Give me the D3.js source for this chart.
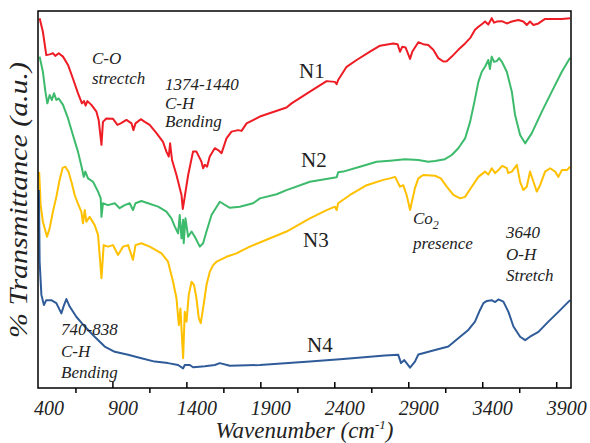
<!DOCTYPE html>
<html>
<head>
<meta charset="utf-8">
<script src="https://cdn.jsdelivr.net/npm/d3@7/dist/d3.min.js"></script>
<style>
  body { margin: 0; background: #fff; }
  svg text { font-family: "Liberation Serif", "Times New Roman", serif; fill: #222; }
</style>
</head>
<body>
<div class="chart"></div>
<script>
var svgWidth = 590;
var svgHeight = 443;
var margin = {top: 11, right: 19, bottom: 55, left: 38};
var width = svgWidth - margin.left - margin.right;
var height = svgHeight - margin.top - margin.bottom;

// [wavenumber (cm-1), transmittance (a.u.)]
var n1 = [[408,98.1],[430,94.5],[453,88.3],[476,88.5],[498,88.8],[514,88.1],[537,88.8],[566,87.9],[600,85.7],[633,82.1],[667,78.2],[694,75.5],[708,76.1],[719,74.9],[731,76.1],[758,75.1],[792,73.3],[807,71.1],[826,64.5],[836,70.6],[859,71.5],[904,71.4],[934,69.8],[956,70.2],[995,71.1],[1029,70.2],[1042,68.4],[1056,70.2],[1092,71.3],[1119,70.6],[1152,69.8],[1198,67.6],[1242,65.3],[1265,62.7],[1281,61.4],[1290,64.9],[1303,60.5],[1333,56.5],[1367,51.2],[1376,47.5],[1412,56.5],[1445,62.7],[1468,62.7],[1491,60.9],[1502,60.0],[1513,58.3],[1525,59.2],[1540,58.7],[1558,61.4],[1592,63.6],[1615,63.1],[1638,62.3],[1671,66.2],[1705,68.0],[1750,68.4],[1773,68.2],[1807,70.2],[1897,72.0],[2077,74.4],[2111,75.5],[2235,78.6],[2348,81.4],[2404,81.2],[2416,80.6],[2426,81.7],[2483,85.2],[2551,87.0],[2641,89.2],[2709,90.8],[2798,91.4],[2828,91.2],[2844,89.2],[2859,90.5],[2882,90.3],[2912,87.3],[2927,89.2],[2945,90.3],[2968,91.7],[3001,91.2],[3035,91.0],[3069,89.7],[3103,87.5],[3137,86.6],[3160,86.7],[3194,87.9],[3238,89.7],[3284,91.4],[3318,92.8],[3351,95.0],[3374,95.8],[3397,96.5],[3419,97.2],[3441,96.4],[3464,98.1],[3480,96.9],[3498,97.2],[3532,97.3],[3566,96.7],[3600,97.2],[3644,97.6],[3678,97.2],[3701,96.3],[3723,97.2],[3746,96.3],[3780,96.7],[3825,97.9],[3870,97.9],[3938,97.9],[3994,98.1]];

var n2 = [[408,87.9],[430,83.9],[447,78.6],[460,75.5],[476,77.7],[491,76.4],[505,78.2],[521,76.4],[537,76.8],[566,75.1],[600,71.5],[633,67.1],[667,62.7],[694,58.3],[706,56.0],[717,57.4],[735,55.6],[769,54.7],[803,52.1],[821,50.3],[826,45.4],[836,49.0],[870,48.5],[916,49.0],[949,47.7],[983,48.5],[1017,49.0],[1039,47.2],[1056,49.0],[1096,49.6],[1141,49.0],[1209,48.1],[1265,46.8],[1299,45.0],[1322,42.8],[1344,41.0],[1355,45.9],[1367,39.7],[1378,44.6],[1382,38.4],[1394,45.0],[1412,40.1],[1435,41.5],[1457,40.1],[1491,37.5],[1513,38.4],[1536,41.5],[1570,45.9],[1626,49.4],[1694,47.8],[1761,48.1],[1851,49.0],[1897,50.3],[2010,51.4],[2077,52.5],[2235,54.7],[2416,55.9],[2426,57.2],[2460,57.4],[2573,58.7],[2686,60.0],[2776,60.3],[2878,60.7],[2968,60.5],[3035,60.0],[3081,60.2],[3148,60.7],[3194,61.8],[3238,63.6],[3284,66.2],[3318,70.6],[3347,75.9],[3374,81.2],[3397,83.9],[3419,85.2],[3441,87.0],[3452,84.6],[3464,87.9],[3480,86.5],[3498,86.7],[3514,87.5],[3532,86.6],[3566,83.9],[3600,78.6],[3622,72.4],[3656,67.1],[3690,64.9],[3712,66.2],[3735,67.6],[3803,73.3],[3870,78.6],[3938,83.9],[3994,87.6]];

var n3 = [[405,57.3],[415,48.5],[430,44.1],[458,40.1],[476,42.4],[498,46.8],[521,50.7],[543,55.2],[564,58.4],[582,58.7],[604,57.3],[625,54.4],[645,51.2],[665,49.1],[690,46.8],[701,43.7],[713,47.2],[724,44.1],[746,45.4],[780,43.2],[803,40.6],[826,29.1],[841,37.9],[870,37.5],[904,37.9],[938,35.3],[972,37.5],[1006,37.9],[1039,34.0],[1056,37.9],[1096,38.4],[1152,37.5],[1232,35.7],[1276,33.5],[1310,28.2],[1333,23.8],[1349,16.7],[1360,21.1],[1367,15.8],[1378,7.9],[1389,20.2],[1401,17.6],[1416,24.7],[1435,28.2],[1452,27.3],[1468,23.8],[1484,18.5],[1497,17.2],[1513,21.1],[1536,27.3],[1558,30.8],[1581,32.6],[1604,33.5],[1671,34.8],[1739,35.7],[1761,36.2],[1829,37.5],[2077,41.5],[2235,45.0],[2348,47.2],[2404,48.1],[2416,47.2],[2426,49.0],[2506,51.2],[2619,53.8],[2731,55.2],[2776,55.6],[2811,56.0],[2844,53.4],[2866,53.8],[2889,51.2],[2912,47.2],[2945,53.0],[2968,55.6],[3001,56.5],[3081,56.3],[3120,55.6],[3160,53.4],[3205,51.2],[3250,50.3],[3284,50.7],[3329,53.4],[3374,56.0],[3419,57.4],[3441,56.6],[3464,58.3],[3487,57.0],[3509,57.8],[3534,58.9],[3566,58.3],[3575,57.0],[3600,57.4],[3634,59.2],[3656,54.7],[3678,52.5],[3701,53.4],[3723,57.4],[3746,54.7],[3769,52.1],[3791,53.8],[3825,57.4],[3859,58.3],[3893,57.4],[3915,56.0],[3938,57.8],[3972,57.8],[3994,58.7]];

var n4 = [[403,52.5],[408,33.5],[420,24.7],[437,22.0],[453,23.3],[487,23.3],[521,22.5],[555,19.8],[573,22.0],[589,23.6],[611,21.6],[656,18.9],[713,16.3],[780,13.6],[848,11.0],[916,9.6],[1006,8.8],[1096,7.9],[1186,7.0],[1276,6.6],[1344,6.1],[1378,5.2],[1389,6.1],[1423,6.1],[1445,5.5],[1468,5.6],[1525,5.8],[1592,6.1],[1626,6.6],[1694,5.9],[1897,6.1],[2235,7.0],[2460,7.7],[2742,8.6],[2832,8.8],[2851,6.6],[2873,7.4],[2912,5.4],[2945,7.0],[2968,8.9],[3081,10.1],[3171,11.0],[3238,13.2],[3306,15.4],[3351,17.6],[3385,20.7],[3408,22.5],[3432,23.1],[3464,23.3],[3487,22.8],[3509,23.5],[3543,22.9],[3577,20.2],[3611,16.3],[3656,13.6],[3690,12.7],[3723,13.6],[3780,14.9],[3847,17.6],[3915,20.2],[3994,23.3]];

var seriesNames = ["N1", "N2", "N3", "N4"];
var seriesData = [n1, n2, n3, n4];
var seriesColors = ["#ee1c24", "#3dbb6c", "#ffc000", "#2f5c99"];

var majorTicks = [900, 1400, 1900, 2400, 2900, 3400, 3900];
var minorTicks = [650, 1150, 1650, 2150, 2650, 3150, 3650];
var tickLabels = [400, 900, 1400, 1900, 2400, 2900, 3400, 3900];

var svg = d3.select(".chart")
  .append("svg")
  .attr("width", svgWidth)
  .attr("height", svgHeight);

var chartGroup = svg.append("g")
  .attr("transform", `translate(${margin.left},${margin.top})`);

var xScale = d3.scaleLinear()
  .domain([397, 4000])
  .range([0, width]);

var yScale = d3.scaleLinear()
  .domain([0, 100])
  .range([height, 0]);

chartGroup.append("clipPath")
  .attr("id", "plotClip")
  .append("rect")
  .attr("width", width)
  .attr("height", height);

// spectra
var line = d3.line()
  .x(d => xScale(d[0]))
  .y(d => yScale(d[1]));

chartGroup.append("g")
  .attr("clip-path", "url(#plotClip)")
  .selectAll("path")
  .data(seriesData)
  .enter()
  .append("path")
  .attr("d", line)
  .attr("fill", "none")
  .attr("stroke", (d, i) => seriesColors[i])
  .attr("stroke-width", 2)
  .attr("stroke-linejoin", "round");

// axes: major ticks point inside, minor ticks outside
var majorAxis = d3.axisBottom(xScale).tickValues(majorTicks).tickSize(-6).tickFormat("");
var minorAxis = d3.axisBottom(xScale).tickValues(minorTicks).tickSize(5).tickFormat("");
var labelAxis = d3.axisBottom(xScale).tickValues(tickLabels).tickSize(0).tickPadding(13).tickFormat(d3.format("d"));

[majorAxis, minorAxis].forEach(function(ax) {
  var g = chartGroup.append("g")
    .attr("transform", `translate(0, ${height})`)
    .call(ax);
  g.select(".domain").remove();
  g.selectAll("line").attr("stroke", "#000").attr("stroke-width", 1.5);
});

var labels = chartGroup.append("g")
  .attr("transform", `translate(0, ${height})`)
  .call(labelAxis);
labels.select(".domain").remove();
labels.selectAll("text")
  .attr("dx", 10)
  .style("font-family", "Liberation Serif")
  .style("font-style", "italic")
  .style("font-size", "20px")
  .attr("fill", "#222");

// frame
chartGroup.append("rect")
  .attr("width", width)
  .attr("height", height)
  .attr("fill", "none")
  .attr("stroke", "#000")
  .attr("stroke-width", 1.5);

// axis titles
var xTitle = svg.append("text")
  .attr("x", margin.left + width / 2)
  .attr("y", 438)
  .attr("text-anchor", "middle")
  .style("font-style", "italic")
  .style("font-size", "23px");
xTitle.append("tspan").text("Wavenumber (cm");
xTitle.append("tspan").attr("dy", -9).style("font-size", "13px").text("-1");
xTitle.append("tspan").attr("dy", 9).text(")");

svg.append("text")
  .attr("transform", "translate(27, 200) rotate(-90)")
  .attr("text-anchor", "middle")
  .attr("textLength", 276)
  .attr("lengthAdjust", "spacingAndGlyphs")
  .style("font-style", "italic")
  .style("font-size", "26px")
  .text("% Transmittance (a.u.)");

// series labels
var nLabelPos = [[299, 78], [301, 167], [303, 247], [307, 352]];
svg.selectAll(".nlabel")
  .data(seriesNames)
  .enter()
  .append("text")
  .attr("class", "nlabel")
  .attr("x", (d, i) => nLabelPos[i][0])
  .attr("y", (d, i) => nLabelPos[i][1])
  .style("font-size", "21px")
  .text(d => d);

// annotations
var notes = [
  {x: 92, y: 64, lines: ["C-O", "strectch"], gap: 20},
  {x: 165, y: 90, lines: ["1374-1440", "C-H", "Bending"], gap: 18.5},
  {x: 61, y: 335, lines: ["740-838", "C-H", "Bending"], gap: 21.5},
  {x: 506, y: 238, lines: ["3640", "O-H", "Stretch"], gap: 21.5}
];
notes.forEach(function(n) {
  n.lines.forEach(function(t, j) {
    svg.append("text")
      .attr("x", n.x)
      .attr("y", n.y + j * n.gap)
      .style("font-style", "italic")
      .style("font-size", "17px")
      .text(t);
  });
});

var co2 = svg.append("text")
  .attr("x", 413)
  .attr("y", 224)
  .style("font-style", "italic")
  .style("font-size", "17px");
co2.append("tspan").text("Co");
co2.append("tspan").attr("dy", 5).style("font-size", "12px").text("2");
svg.append("text")
  .attr("x", 413)
  .attr("y", 249)
  .style("font-style", "italic")
  .style("font-size", "17px")
  .text("presence");
</script>
</body>
</html>
